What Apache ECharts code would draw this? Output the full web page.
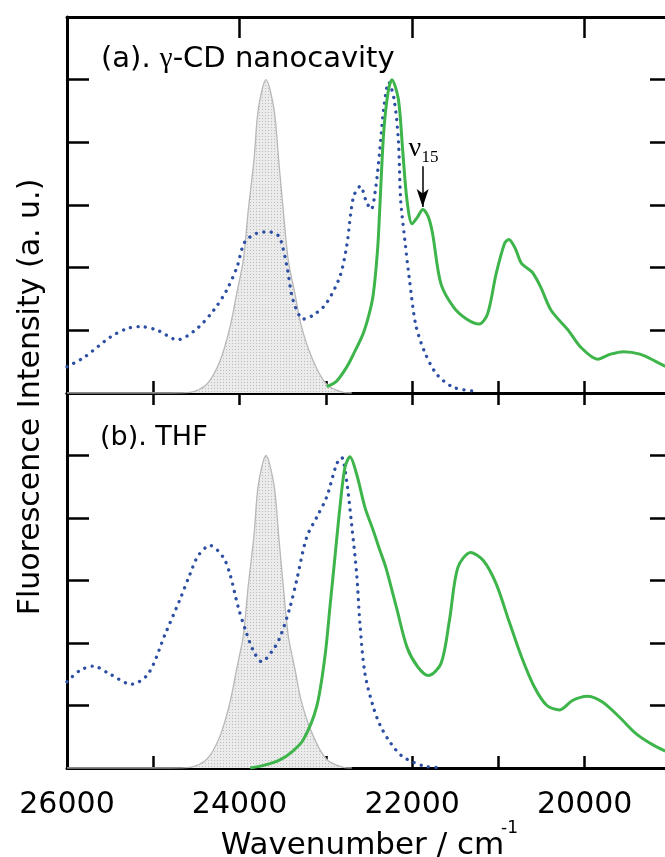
<!DOCTYPE html>
<html>
<head>
<meta charset="utf-8">
<script src="https://cdn.jsdelivr.net/npm/echarts@6/dist/echarts.min.js"></script>
<style>
  html, body { margin: 0; padding: 0; background: #fff; }
  #chart { width: 665px; height: 857px; }
</style>
</head>
<body>
<div id="chart"></div>
<script>
// [wavenumber (cm^-1), intensity (a.u.)]
const excitation = [
  [26000, 0], [24800, 0], [24575, 0.01], [24380, 0.14], [24227, 0.51], [24111, 1.05],
  [24034, 1.58], [23957, 2.12], [23899, 2.92], [23833, 3.72], [23783, 4.53], [23694, 5.0],
  [23601, 4.53], [23547, 3.72], [23494, 2.92], [23436, 2.12], [23358, 1.58], [23281, 1.05],
  [23146, 0.51], [22992, 0.14], [22798, 0.01], [22700, 0]
];

const absorptionCD = [
  [26000, 0.42], [25800, 0.57], [25500, 0.89], [25300, 1.03], [25150, 1.06], [24950, 1.0],
  [24720, 0.85], [24500, 1.02], [24300, 1.32], [24150, 1.64], [24030, 2.01], [23940, 2.41],
  [23800, 2.55], [23680, 2.57], [23590, 2.55], [23530, 2.47], [23450, 2.01], [23380, 1.48],
  [23260, 1.18], [23150, 1.24], [23000, 1.42], [22840, 1.85], [22760, 2.33], [22680, 3.13],
  [22600, 3.30], [22530, 3.05], [22475, 2.93], [22420, 3.3], [22375, 3.88], [22330, 4.53],
  [22270, 4.96], [22210, 4.69], [22160, 4.04], [22133, 3.08], [22085, 2.44], [22035, 1.85],
  [21960, 1.10], [21860, 0.67], [21715, 0.30], [21520, 0.09], [21270, 0.03]
];

const emissionCD = [
  [22990, 0.10], [22875, 0.19], [22760, 0.41], [22680, 0.62], [22570, 0.94], [22500, 1.25],
  [22450, 1.58], [22400, 2.3], [22375, 2.95], [22330, 4.15], [22280, 4.79], [22235, 5.0],
  [22160, 4.69], [22110, 3.88], [22060, 3.08], [22000, 2.70], [21936, 2.81], [21877, 2.93],
  [21813, 2.81], [21764, 2.55], [21666, 1.74], [21520, 1.37], [21370, 1.18], [21224, 1.10],
  [21126, 1.26], [21027, 1.90], [20928, 2.39], [20880, 2.45], [20806, 2.31], [20733, 2.07],
  [20610, 1.93], [20510, 1.69], [20390, 1.32], [20190, 1.00], [20045, 0.73], [19850, 0.54],
  [19700, 0.62], [19550, 0.66], [19360, 0.62], [19185, 0.51], [19000, 0.38]
];

const absorptionTHF = [
  [26000, 1.38], [25850, 1.56], [25695, 1.63], [25500, 1.50], [25253, 1.34], [25057, 1.51],
  [24860, 2.15], [24690, 2.70], [24575, 3.10], [24478, 3.40], [24343, 3.56], [24189, 3.37],
  [24111, 3.10], [24015, 2.57], [23918, 2.15], [23841, 1.88], [23744, 1.70], [23628, 1.86],
  [23532, 2.09], [23416, 2.57], [23339, 3.00], [23223, 3.69], [23107, 4.01], [22992, 4.33],
  [22876, 4.86], [22818, 4.97], [22759, 4.59], [22702, 3.90], [22643, 3.11], [22605, 2.31],
  [22547, 1.51], [22451, 0.98], [22373, 0.69], [22250, 0.40], [22108, 0.18], [21863, 0.03],
  [21715, 0.01]
];

const emissionTHF = [
  [23877, 0.0], [23700, 0.05], [23532, 0.13], [23400, 0.25], [23262, 0.45], [23107, 0.98],
  [23011, 1.78], [22953, 2.57], [22895, 3.37], [22837, 4.17], [22779, 4.81], [22721, 4.98],
  [22643, 4.70], [22547, 4.17], [22451, 3.80], [22373, 3.48], [22305, 3.21], [22182, 2.57],
  [22059, 1.93], [21936, 1.62], [21813, 1.48], [21666, 1.67], [21568, 2.36], [21470, 3.21],
  [21322, 3.45], [21175, 3.32], [21027, 2.95], [20880, 2.36], [20733, 1.78], [20585, 1.30],
  [20438, 1.00], [20290, 0.93], [20143, 1.08], [19970, 1.15], [19799, 1.06], [19602, 0.82],
  [19406, 0.55], [19209, 0.37], [19000, 0.23]
];

// axis ticks
const labelledTicks = [26000, 24000, 22000, 20000];
const topMajorTicks = [26000, 24000, 22000, 20000];
const topMinorTicks = [25000, 23000, 21000, 19000];

// ν15 vibronic band marker (wavenumber, arrow start, arrow tip)
const nu15Band = { x: 21878, from: 3.62, to: 2.97 };

const SANS = "'DejaVu Sans', Verdana, sans-serif";
const SERIF = "'Liberation Serif', 'Times New Roman', serif";
const GREEN = '#3db54a';
const BLUE = '#2d4fa3';
const GREY_LINE = '#b8b8b8';

// stippled grey fill for the excitation profile
function stipple() {
  const c = document.createElement('canvas');
  c.width = 3; c.height = 3;
  const g = c.getContext('2d');
  g.fillStyle = '#ebebeb';
  g.fillRect(0, 0, 3, 3);
  g.fillStyle = '#bbbbbb';
  g.fillRect(1, 1, 1, 1);
  return c;
}
const fillPattern = { image: stipple(), repeat: 'repeat' };

const axisLineStyle = { lineStyle: { color: '#000', width: 3 } };

function xAxisBase(gridIndex, position) {
  return {
    type: 'value', gridIndex, position, inverse: true,
    min: 19000, max: 26000, interval: 1000,
    axisLine: { show: true, onZero: false, ...axisLineStyle },
    axisTick: { show: true, inside: true, length: 12, lineStyle: { color: '#000', width: 2.5 } },
    axisLabel: { show: false },
    splitLine: { show: false }
  };
}

function yAxisBase(gridIndex, position, tickLen) {
  return {
    type: 'value', gridIndex, position,
    min: 0, max: 6, interval: 1,
    axisLine: { show: true, onZero: false, ...axisLineStyle },
    axisTick: { show: true, inside: true, length: tickLen, lineStyle: { color: '#000', width: 2.5 } },
    axisLabel: { show: false },
    splitLine: { show: false }
  };
}

const xAxes = [
  // panel (a)
  xAxisBase(0, 'bottom'),
  Object.assign(xAxisBase(0, 'top'), {
    axisTick: { show: true, inside: true, length: 21, customValues: topMajorTicks, lineStyle: { color: '#000', width: 2.5 } }
  }),
  Object.assign(xAxisBase(0, 'top'), {
    axisLine: { show: false },
    axisTick: { show: true, inside: true, length: 12, customValues: topMinorTicks, lineStyle: { color: '#000', width: 2.5 } }
  }),
  // panel (b)
  xAxisBase(1, 'top'),
  Object.assign(xAxisBase(1, 'bottom'), {
    axisLabel: {
      show: true, margin: 22, fontSize: 30, fontFamily: SANS, color: '#000',
      showMinLabel: true, showMaxLabel: true,
      formatter: v => (labelledTicks.indexOf(v) >= 0 ? String(v) : '')
    },
    name: 'Wavenumber / cm',
    nameLocation: 'middle',
    nameGap: 62,
    nameTextStyle: { fontSize: 31, fontFamily: SANS, color: '#000', padding: [0, 13, 0, 0] }
  }),
  // full-height frame carrying the shared y title
  { type: 'value', gridIndex: 2, show: false, min: 19000, max: 26000 }
];

const yAxes = [
  yAxisBase(0, 'left', 22), yAxisBase(0, 'right', 21),
  yAxisBase(1, 'left', 22), yAxisBase(1, 'right', 21),
  {
    type: 'value', gridIndex: 2, position: 'left', min: 0, max: 12,
    axisLine: { show: false }, axisTick: { show: false }, axisLabel: { show: false },
    splitLine: { show: false },
    name: 'Fluorescence Intensity (a. u.)',
    nameLocation: 'middle', nameGap: 21,
    nameTextStyle: { fontSize: 30, fontFamily: SANS, color: '#000', padding: [0, 9, 0, 0] }
  }
];

function excitationSeries(xi, yi) {
  return {
    type: 'line', xAxisIndex: xi, yAxisIndex: yi, data: excitation,
    smooth: 0.3, symbol: 'none', z: 3,
    lineStyle: { color: GREY_LINE, width: 1.3 },
    areaStyle: { color: fillPattern, opacity: 1, origin: 'start' }
  };
}

function absorptionSeries(xi, yi, data) {
  return {
    type: 'line', xAxisIndex: xi, yAxisIndex: yi, data,
    smooth: 0.3, symbol: 'none', z: 4,
    lineStyle: { color: BLUE, width: 3.3, type: [0.1, 7.4], cap: 'round' }
  };
}

function emissionSeries(xi, yi, data) {
  return {
    type: 'line', xAxisIndex: xi, yAxisIndex: yi, data,
    smooth: 0.3, symbol: 'none', z: 5,
    lineStyle: { color: GREEN, width: 3 }
  };
}

const emA = emissionSeries(0, 0, emissionCD);
emA.markLine = {
  silent: true, animation: false,
  symbol: ['none', 'arrow'], symbolSize: [9, 18],
  label: { show: false },
  lineStyle: { color: '#000', width: 1.5, type: 'solid' },
  data: [[{ coord: [nu15Band.x, nu15Band.from] }, { coord: [nu15Band.x, nu15Band.to] }]]
};
emA.markPoint = {
  silent: true, animation: false, symbol: 'circle', symbolSize: 0,
  data: [
    { coord: [21968, 3.90], label: { show: true, position: 'inside', formatter: 'ν', fontSize: 28, fontFamily: SERIF, color: '#000' } },
    { coord: [21794, 3.76], label: { show: true, position: 'inside', formatter: '15', fontSize: 17, fontFamily: SERIF, color: '#000' } }
  ]
};

const gridBase = { left: 67, width: 604, outerBoundsMode: 'none', containLabel: false };

const option = {
  animation: false,
  backgroundColor: '#fff',
  grid: [
    Object.assign({ top: 17, height: 376 }, gridBase),
    Object.assign({ top: 393, height: 375 }, gridBase),
    Object.assign({ top: 17, height: 751 }, gridBase)
  ],
  title: [
    {
      left: 101, top: 45, padding: 0,
      text: '{s|(a). }{g|γ}{s|-CD nanocavity}',
      textStyle: { fontWeight: 'normal', rich: {
        s: { fontSize: 29, fontWeight: 'normal', fontFamily: SANS, color: '#000' },
        g: { fontSize: 29, fontWeight: 'normal', fontFamily: SERIF, color: '#000' }
      } }
    },
    {
      left: 100, top: 424, padding: 0,
      text: '(b). THF',
      textStyle: { fontSize: 27, fontWeight: 'normal', fontFamily: SANS, color: '#000' }
    }
  ],
  graphic: [
    { type: 'text', left: 501, top: 820, style: { text: '-1', font: "17px 'DejaVu Sans'", fill: '#000' } }
  ],
  xAxis: xAxes,
  yAxis: yAxes,
  series: [
    excitationSeries(0, 0),
    absorptionSeries(0, 0, absorptionCD),
    emA,
    excitationSeries(4, 2),
    absorptionSeries(4, 2, absorptionTHF),
    emissionSeries(4, 2, emissionTHF)
  ]
};

const chart = echarts.init(document.getElementById('chart'));
chart.setOption(option);
</script>
</body>
</html>
